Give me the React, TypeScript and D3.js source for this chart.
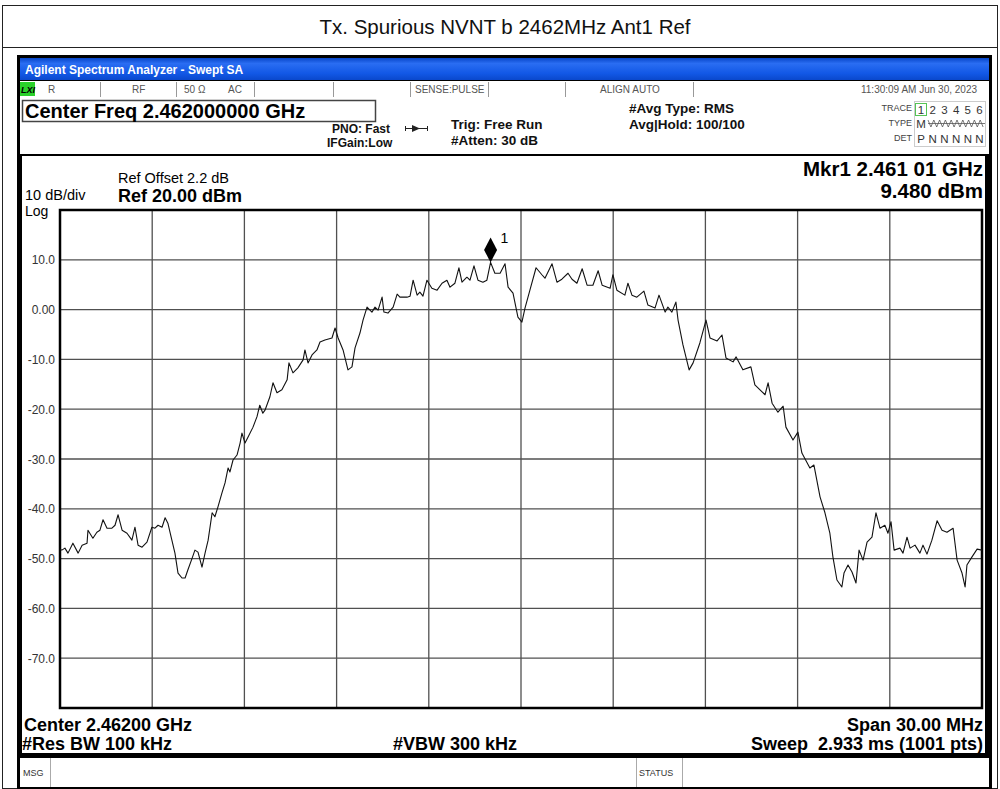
import React from "react";
import * as d3 from "d3";

// trace (MHz / dBm)
const freqMHz = [
  2447.0, 2447.06, 2447.16, 2447.26, 2447.42, 2447.59, 2447.72, 2447.88, 2447.91, 2448.07, 2448.2,
  2448.3, 2448.4, 2448.53, 2448.69, 2448.79, 2448.89, 2449.02, 2449.18, 2449.34, 2449.44,
  2449.54, 2449.67, 2449.83, 2449.99, 2450.09, 2450.19, 2450.32, 2450.42, 2450.51, 2450.64,
  2450.74, 2450.84, 2450.97, 2451.07, 2451.16, 2451.3, 2451.39, 2451.49, 2451.62, 2451.72,
  2451.82, 2451.95, 2452.04, 2452.14, 2452.27, 2452.37, 2452.47, 2452.53, 2452.63, 2452.76,
  2452.86, 2452.92, 2453.02, 2453.12, 2453.28, 2453.41, 2453.5, 2453.6, 2453.67, 2453.83,
  2453.93, 2454.06, 2454.22, 2454.39, 2454.45, 2454.58, 2454.74, 2454.91, 2454.97, 2455.07,
  2455.2, 2455.36, 2455.46, 2455.62, 2455.85, 2455.95, 2456.05, 2456.21, 2456.37, 2456.5,
  2456.6, 2456.76, 2456.86, 2456.99, 2457.15, 2457.25, 2457.35, 2457.48, 2457.54, 2457.67,
  2457.84, 2457.97, 2458.06, 2458.29, 2458.39, 2458.49, 2458.62, 2458.71, 2458.81, 2458.94,
  2459.1, 2459.27, 2459.43, 2459.59, 2459.69, 2459.85, 2459.98, 2460.08, 2460.24, 2460.34,
  2460.47, 2460.6, 2460.76, 2460.89, 2461.01, 2461.15, 2461.32, 2461.48, 2461.58, 2461.74,
  2461.9, 2462.03, 2462.13, 2462.29, 2462.49, 2462.68, 2462.78, 2463.01, 2463.17, 2463.33,
  2463.53, 2463.66, 2463.82, 2463.99, 2464.15, 2464.34, 2464.51, 2464.64, 2464.9, 2464.99,
  2465.12, 2465.38, 2465.48, 2465.61, 2465.77, 2466.0, 2466.13, 2466.36, 2466.49, 2466.69,
  2466.78, 2466.91, 2467.04, 2467.11, 2467.27, 2467.47, 2467.6, 2467.82, 2468.02, 2468.15,
  2468.38, 2468.54, 2468.67, 2468.9, 2469.0, 2469.22, 2469.48, 2469.61, 2469.94, 2470.04,
  2470.17, 2470.36, 2470.53, 2470.62, 2470.85, 2471.01, 2471.14, 2471.4, 2471.53, 2471.73,
  2471.89, 2472.05, 2472.15, 2472.28, 2472.44, 2472.51, 2472.64, 2472.77, 2472.9, 2473.0,
  2473.13, 2473.26, 2473.42, 2473.55, 2473.68, 2473.84, 2473.94, 2474.04, 2474.14, 2474.33,
  2474.43, 2474.56, 2474.66, 2474.82, 2474.98, 2475.08, 2475.21, 2475.37, 2475.54, 2475.7,
  2475.86, 2476.06, 2476.19, 2476.35, 2476.45, 2476.51, 2476.67, 2476.84, 2477.0,
];

const levelDbm = [
  -48.1, -48.3, -47.9, -48.9, -46.9, -48.9, -47.3, -46.9, -44.3, -45.9, -44.7,
  -44.3, -42.2, -43.9, -43.9, -43.3, -41.2, -44.3, -44.9, -46.3, -43.7,
  -47.3, -47.7, -46.7, -43.7, -43.9, -43.3, -43.7, -41.8, -42.9, -46.3,
  -48.9, -52.9, -53.9, -53.9, -52.3, -49.9, -48.3, -48.7, -51.7, -48.9,
  -46.3, -40.8, -41.6, -39.6, -36.8, -34.8, -31.8, -32.6, -30.2, -29.2,
  -26.8, -24.8, -26.8, -25.6, -23.6, -21.5, -19.2, -20.8, -20.2, -17.5,
  -14.7, -16.7, -16.1, -14.1, -10.7, -12.7, -11.7, -10.1, -8.1, -10.7,
  -9.1, -8.1, -6.5, -6.1, -5.7, -3.7, -5.7, -8.1, -12.1, -11.5,
  -7.7, -4.7, -2.1, 0.5, -0.5, 0.5, -0.1, 2.5, -0.5, -0.7,
  0.5, 3.1, 2.5, 2.5, 2.7, 5.9, 2.9, 3.5, 2.7, 5.9,
  4.3, 3.9, 5.3, 5.9, 4.5, 5.3, 8.4, 5.5, 6.5, 5.9,
  8.8, 5.9, 5.5, 5.9, 9.48, 7.3, 7.3, 9.2, 4.5, 3.3,
  -1.5, -2.5, 0.3, 3.9, 8.4, 7.0, 6.3, 9.2, 5.5, 6.1,
  7.3, 6.1, 5.3, 8.2, 4.9, 4.9, 7.8, 4.9, 4.3, 7.0,
  3.9, 2.9, 5.3, 2.9, 2.5, 3.7, 0.9, 0.3, 2.9, -0.5,
  0.5, -0.5, 1.5, -2.1, -7.1, -12.1, -10.7, -6.7, -2.1, -5.7,
  -6.3, -5.1, -9.7, -10.5, -9.5, -12.1, -11.5, -15.1, -17.1, -14.7,
  -18.8, -20.6, -19.4, -23.6, -26.2, -24.6, -28.8, -31.8, -31.2, -37.6,
  -40.8, -44.9, -49.7, -54.3, -55.7, -52.9, -51.3, -52.7, -54.9, -48.3,
  -50.3, -46.7, -45.7, -40.8, -43.9, -43.3, -44.9, -42.6, -48.3, -47.9,
  -48.9, -45.7, -47.9, -47.3, -48.9, -47.3, -49.1, -46.3, -42.4, -44.3,
  -44.7, -43.9, -50.3, -52.9, -55.7, -51.3, -49.7, -48.1, -48.3,
];

const yTickValues = [10, 0, -10, -20, -30, -40, -50, -60, -70];
const yTickLabels = ["10.0", "0.00", "-10.0", "-20.0", "-30.0", "-40.0", "-50.0", "-60.0", "-70.0"];
const freqGridMHz = [2447, 2450, 2453, 2456, 2459, 2462, 2465, 2468, 2471, 2474, 2477];

const markerFreq = 2461.01;
const markerLevel = 9.48;

const traceNums = ["1", "2", "3", "4", "5", "6"];
const detNums = ["P", "N", "N", "N", "N", "N"];

const FONT = "'Liberation Sans', Arial, sans-serif";

export default function App() {
  const x = d3.scaleLinear().domain([2447, 2477]).range([60, 982]);
  const y = d3.scaleLinear().domain([-80, 20]).range([708, 210]);

  const pts: [number, number][] = freqMHz.map((f, i) => [f, levelDbm[i]]);
  const line = d3
    .line<[number, number]>()
    .x((d) => x(d[0]))
    .y((d) => y(d[1]));

  const mx = x(markerFreq);
  const my = y(markerLevel);

  return (
    <svg
      width={1000}
      height={789}
      style={{ position: "absolute", left: 0, top: 0, background: "#fff" }}
      fontFamily={FONT}
    >
      <defs>
        <linearGradient id="bar" x1="0" y1="0" x2="0" y2="1">
          <stop offset="0" stopColor="#0846c8" />
          <stop offset="0.25" stopColor="#2a6df2" />
          <stop offset="0.7" stopColor="#1258e6" />
          <stop offset="1" stopColor="#0a48cc" />
        </linearGradient>
      </defs>

      {/* outer report frame */}
      <rect x={2.5} y={5.5} width={995} height={783} fill="none" stroke="#222" />
      <line x1={2.5} x2={997.5} y1={47.5} y2={47.5} stroke="#222" />
      <text x={505} y={34} fontSize={20.5} textAnchor="middle" fill="#111">
        Tx. Spurious NVNT b 2462MHz Ant1 Ref
      </text>

      {/* analyzer window */}
      <rect x={17} y={55} width={975} height={734} fill="#000" />
      <rect x={20} y={58} width={969} height={22} fill="url(#bar)" />
      <text x={25} y={74} fontSize={12} fontWeight="bold" fill="#fff">
        Agilent Spectrum Analyzer - Swept SA
      </text>

      {/* status row */}
      <rect x={20} y={81} width={969} height={16} fill="#fff" />
      {[100, 176, 254, 333, 410, 488, 565, 693].map((cx) => (
        <line key={cx} x1={cx + 0.5} x2={cx + 0.5} y1={82} y2={97} stroke="#999" />
      ))}
      <rect x={20} y={82} width={15} height={14} fill="#2bd12b" />
      <text x={21} y={93} fontSize={9} fontWeight="bold" fontStyle="italic" fill="#000">LXI</text>
      <g fontSize={10} fill="#555">
        <text x={48} y={93}>R</text>
        <text x={132} y={93}>RF</text>
        <text x={184} y={93}>50 Ω</text>
        <text x={228} y={93}>AC</text>
        <text x={415} y={93}>SENSE:PULSE</text>
        <text x={600} y={93}>ALIGN AUTO</text>
        <text x={977} y={93} textAnchor="end">11:30:09 AM Jun 30, 2023</text>
      </g>

      {/* header */}
      <rect x={20} y={97} width={969} height={57} fill="#fff" />
      <rect x={22.5} y={100.5} width={353} height={21} fill="none" stroke="#444" strokeWidth={1.5} />
      <text x={25} y={118} fontSize={20} fontWeight="bold" fill="#000">Center Freq 2.462000000 GHz</text>
      <g fontSize={12} fontWeight="bold" fill="#111">
        <text x={332} y={133}>PNO: Fast</text>
        <text x={327} y={147}>IFGain:Low</text>
      </g>
      <g stroke="#222" strokeWidth={1}>
        <line x1={405} x2={428} y1={128.5} y2={128.5} />
        <line x1={405.5} x2={405.5} y1={126} y2={131} />
        <line x1={427.5} x2={427.5} y1={126} y2={131} />
      </g>
      <path d="M412,125 L420,128.5 L412,132 Z" fill="#222" />
      <g fontSize={13.5} fontWeight="bold" fill="#111">
        <text x={451} y={129}>Trig: Free Run</text>
        <text x={451} y={145}>#Atten: 30 dB</text>
        <text x={629} y={113}>#Avg Type: RMS</text>
        <text x={629} y={129}>Avg|Hold: 100/100</text>
      </g>
      <g fontSize={9} fill="#444" textAnchor="end">
        <text x={912} y={111}>TRACE</text>
        <text x={912} y={126}>TYPE</text>
        <text x={912} y={141}>DET</text>
      </g>
      <rect x={914.5} y={101.5} width={71} height={45} fill="none" stroke="#ccc" />
      <rect x={915.5} y={103.5} width={11} height={12} fill="none" stroke="#55c455" />
      <g fontSize={11.5} fill="#333">
        {traceNums.map((t, i) => (
          <text key={"t" + i} x={921 + i * 11.7} y={114} textAnchor="middle">{t}</text>
        ))}
        {detNums.map((t, i) => (
          <text key={"d" + i} x={921 + i * 11.7} y={143} textAnchor="middle">{t}</text>
        ))}
        <text x={921} y={128} textAnchor="middle">M</text>
      </g>
      <path
        d={d3.range(20).map((i) => `${i === 0 ? "M" : "L"}${928 + i * 2.9},${i % 2 ? 127 : 120}`).join(" ")}
        fill="none"
        stroke="#555"
        strokeWidth={0.8}
      />
      <line x1={928} x2={985} y1={123.5} y2={123.5} stroke="#555" strokeWidth={0.8} />

      {/* plot panel */}
      <rect x={21.5} y={155.5} width={964} height={598} fill="#fff" stroke="#000" />
      <text x={25} y={200} fontSize={14.5} fill="#000">10 dB/div</text>
      <text x={25} y={216} fontSize={14} fill="#000">Log</text>
      <text x={118} y={183} fontSize={14.5} fill="#000">Ref Offset 2.2 dB</text>
      <text x={118} y={202} fontSize={18} fontWeight="bold" fill="#000">Ref 20.00 dBm</text>
      <text x={983} y={176} fontSize={20.5} fontWeight="bold" textAnchor="end" fill="#000">Mkr1 2.461 01 GHz</text>
      <text x={983} y={198} fontSize={20.5} fontWeight="bold" textAnchor="end" fill="#000">9.480 dBm</text>

      {/* grid */}
      <g stroke="#505050" strokeWidth={1.3}>
        {freqGridMHz.slice(1, -1).map((f) => (
          <line key={f} x1={x(f)} x2={x(f)} y1={210} y2={708} />
        ))}
        {yTickValues.map((v) => (
          <line key={v} x1={60} x2={982} y1={y(v)} y2={y(v)} />
        ))}
      </g>
      <rect x={60} y={210} width={922} height={498} fill="none" stroke="#000" strokeWidth={2.5} />
      <g fontSize={12} fill="#333" textAnchor="end">
        {yTickValues.map((v, i) => (
          <text key={v} x={55} y={y(v) + 4.5}>{yTickLabels[i]}</text>
        ))}
      </g>

      {/* trace */}
      <path d={line(pts) || ""} fill="none" stroke="#111" strokeWidth={1.1} strokeLinejoin="round" />

      {/* marker */}
      <path d={`M${mx},${my} L${mx + 6.5},${my - 12.5} L${mx},${my - 25} L${mx - 6.5},${my - 12.5} Z`} fill="#000" />
      <text x={mx + 10} y={my - 19} fontSize={14} fill="#000">1</text>

      {/* footer */}
      <g fontSize={18} fontWeight="bold" fill="#000">
        <text x={24} y={731}>Center 2.46200 GHz</text>
        <text x={22} y={750}>#Res BW 100 kHz</text>
        <text x={393} y={750}>#VBW 300 kHz</text>
        <text x={983} y={731} textAnchor="end">Span 30.00 MHz</text>
        <text x={983} y={750} textAnchor="end">{"Sweep\u00a0\u00a02.933 ms (1001 pts)"}</text>
      </g>

      {/* message bar */}
      <rect x={20} y={758} width={969} height={29} fill="#fff" />
      <line x1={50.5} x2={50.5} y1={758} y2={787} stroke="#aaa" />
      <line x1={636.5} x2={636.5} y1={758} y2={787} stroke="#aaa" />
      <line x1={682.5} x2={682.5} y1={758} y2={787} stroke="#aaa" />
      <text x={23} y={776} fontSize={9} fill="#333">MSG</text>
      <text x={639} y={776} fontSize={9} fill="#333">STATUS</text>
    </svg>
  );
}
